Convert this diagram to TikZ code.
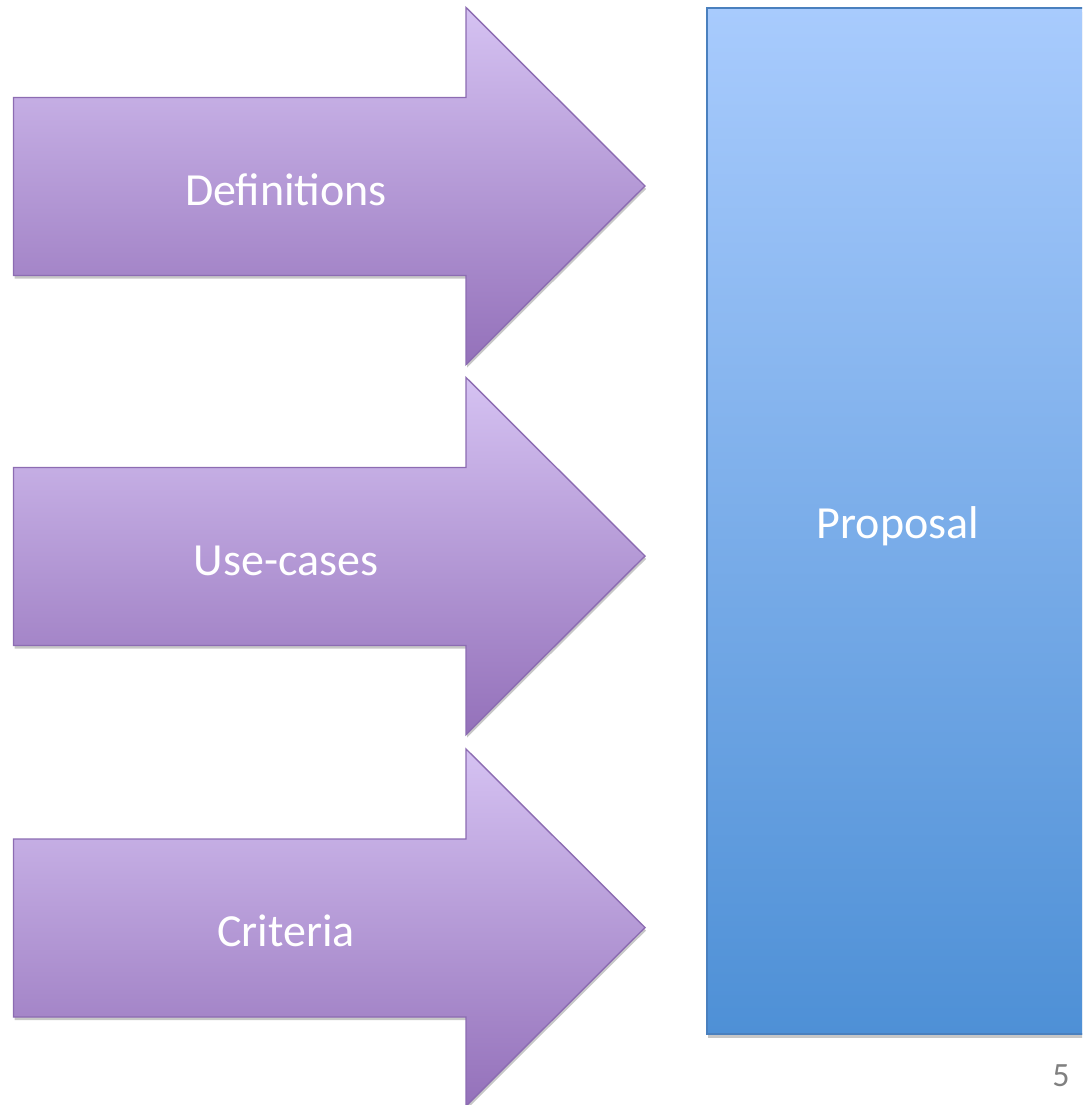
\documentclass[tikz,border=0pt]{standalone}
\usepackage{fontspec}
\setmainfont{Carlito}
\usetikzlibrary{shadows}
\definecolor{ptop}{RGB}{213,194,242}
\definecolor{pbot}{RGB}{148,113,186}
\definecolor{pedge}{RGB}{140,108,178}
\definecolor{btop}{RGB}{168,203,253}
\definecolor{bbot}{RGB}{78,144,214}
\definecolor{bedge}{RGB}{74,128,190}
\definecolor{numgray}{RGB}{128,128,128}
\tikzset{
  arrowshape/.style={draw=pedge, line width=1.4pt, line join=miter,
    top color=ptop, bottom color=pbot,
    drop shadow={shadow xshift=1pt, shadow yshift=-3pt, opacity=0.22, fill=black}},
  boxshape/.style={draw=bedge, line width=1.4pt,
    top color=btop, bottom color=bbot,
    drop shadow={shadow xshift=1pt, shadow yshift=-4pt, opacity=0.22, fill=black}},
  lbl/.style={text=white, font=\fontsize{46}{50}\selectfont, anchor=base, inner sep=0pt},
  pagenum/.style={text=numgray, font=\fontsize{34}{38}\selectfont, anchor=base, inner sep=0pt}
}
\begin{document}
\begin{tikzpicture}[x=1pt, y=-1pt]
\useasboundingbox (0,0) rectangle (1082,1105);
\clip (0,0) rectangle (1082,1105);
% Proposal box
\path[boxshape] (707,8) rectangle (1092,1034);
\node[lbl] (proposal) at (898,538) {Proposal};
% Arrows
\foreach \y/\name/\txt in {7.5/def/Definitions, 377.5/use/Use-cases, 749/crit/Criteria}{
  \path[arrowshape] (13.5,\y+90) -- (466,\y+90) -- (466,\y) -- (645,\y+178.5)
     -- (466,\y+357) -- (466,\y+268) -- (13.5,\y+268) -- cycle;
  \node[lbl] (\name) at (286,\y+197.5) {\txt};
}
\node[pagenum] (num) at (1061,1086) {5};
\end{tikzpicture}
\end{document}
